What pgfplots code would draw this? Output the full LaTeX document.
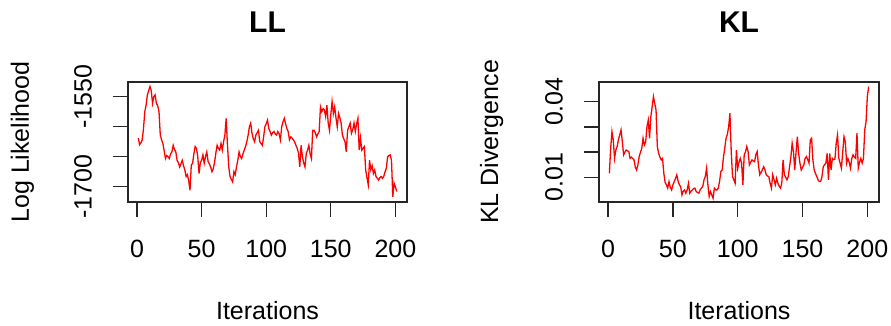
\documentclass[border=0pt]{standalone}
\usepackage{pgfplots}
\pgfplotsset{compat=1.18}
\usepackage{fontspec}
\setmainfont{Liberation Sans}
\newcommand{\lab}{\fontsize{25}{30}\selectfont}
\pgfplotsset{
  rstyle/.style={
    scale only axis,
    height=120pt,
    anchor=south west,
    axis line style={black!85, line width=1.3pt},
    tick style={black!85, line width=1.3pt},
    major tick length=15pt,
    tick align=outside,
    xtick pos=lower, ytick pos=left,
    scaled y ticks=false, scaled x ticks=false,
    xmin=-7, xmax=209,
    xtick={0,50,100,150,200},
    xticklabels={0,50,100,150,200},
    xticklabel style={font=\lab, anchor=north, inner sep=0pt},
    yticklabel style={font=\lab, rotate=90, anchor=south, inner sep=0pt},
    xticklabel shift=23pt,
    yticklabel shift=21pt,
    every axis title/.style={at={(axis description cs:0.5,1)}, anchor=center, yshift=60pt, font=\bfseries\fontsize{30}{36}\selectfont, inner sep=0pt},
    every axis x label/.style={at={(axis description cs:0.5,0)}, anchor=center, yshift=-109pt, font=\lab, inner sep=0pt},
    xlabel={Iterations},
  }
}
\begin{document}
\begin{tikzpicture}
\useasboundingbox (0,0) rectangle (891pt,326pt);
\begin{axis}[rstyle, at={(128pt,124pt)}, width=279pt,
  ymin=-1725.5, ymax=-1525.5,
  ytick={-1700,-1650,-1600,-1550},
  yticklabels={{-1700},{},{},{-1550}},
  title={LL},
  ylabel={Log Likelihood},
  every axis y label/.style={at={(axis description cs:-0.3781,0.5)}, anchor=center, rotate=90, font=\lab, inner sep=0pt},
]
\addplot[red, line width=1.3pt] coordinates {
(1,-1619)(2,-1630)(3,-1627)(4,-1622)(5,-1603)(6,-1575)(7,-1564)(8,-1547)(9,-1540)(10,-1533)
(11,-1540)(12,-1561)(13,-1550)(14,-1547)(15,-1561)(16,-1565)(17,-1575)(18,-1614)(19,-1622)(20,-1628)
(21,-1640)(22,-1653)(23,-1648)(24,-1650)(25,-1653)(26,-1645)(27,-1642)(28,-1631)(29,-1638)(30,-1642)
(31,-1656)(32,-1660)(33,-1667)(34,-1662)(35,-1656)(36,-1665)(37,-1672)(38,-1683)(39,-1680)(40,-1690)
(41,-1706)(42,-1664)(43,-1661)(44,-1645)(45,-1633)(46,-1636)(47,-1650)(48,-1678)(49,-1660)(50,-1656)
(51,-1647)(52,-1661)(53,-1650)(54,-1642)(55,-1658)(56,-1662)(57,-1667)(58,-1675)(59,-1670)(60,-1660)
(61,-1644)(62,-1631)(63,-1636)(64,-1639)(65,-1628)(66,-1639)(67,-1625)(68,-1614)(69,-1586)(70,-1630)
(71,-1667)(72,-1683)(73,-1688)(74,-1692)(75,-1675)(76,-1680)(77,-1667)(78,-1656)(79,-1642)(80,-1650)
(81,-1653)(82,-1645)(83,-1639)(84,-1633)(85,-1625)(86,-1614)(87,-1600)(88,-1594)(89,-1611)(90,-1620)
(91,-1625)(92,-1614)(93,-1610)(94,-1606)(95,-1625)(96,-1628)(97,-1631)(98,-1617)(99,-1600)(100,-1595)
(101,-1589)(102,-1603)(103,-1608)(104,-1614)(105,-1610)(106,-1608)(107,-1612)(108,-1614)(109,-1608)(110,-1612)
(111,-1622)(112,-1600)(113,-1592)(114,-1586)(115,-1595)(116,-1603)(117,-1608)(118,-1622)(119,-1617)(120,-1619)
(121,-1622)(122,-1625)(123,-1631)(124,-1636)(125,-1644)(126,-1667)(127,-1631)(128,-1650)(129,-1660)(130,-1667)
(131,-1645)(132,-1639)(133,-1631)(134,-1645)(135,-1653)(136,-1606)(137,-1606)(138,-1610)(139,-1617)(140,-1612)
(141,-1608)(142,-1567)(143,-1575)(144,-1570)(145,-1572)(146,-1583)(147,-1564)(148,-1594)(149,-1606)(150,-1580)
(151,-1558)(152,-1578)(153,-1567)(154,-1585)(155,-1600)(156,-1578)(157,-1585)(158,-1594)(159,-1614)(160,-1620)
(161,-1625)(162,-1642)(163,-1606)(164,-1600)(165,-1594)(166,-1611)(167,-1605)(168,-1594)(169,-1608)(170,-1595)
(171,-1586)(172,-1639)(173,-1619)(174,-1639)(175,-1636)(176,-1633)(177,-1672)(178,-1685)(179,-1697)(180,-1656)
(181,-1672)(182,-1665)(183,-1678)(184,-1672)(185,-1683)(186,-1686)(187,-1689)(188,-1685)(189,-1683)(190,-1686)
(191,-1683)(192,-1675)(193,-1669)(194,-1650)(195,-1648)(196,-1647)(197,-1656)(198,-1717)(199,-1694)(200,-1700)
(201,-1708)
};
\end{axis}
\begin{axis}[rstyle, at={(599pt,124pt)}, width=280pt,
  ymin=0.0002, ymax=0.0478,
  ytick={0.01,0.02,0.03,0.04},
  yticklabels={{0.01},{},{},{0.04}},
  title={KL},
  ylabel={KL Divergence},
  every axis y label/.style={at={(axis description cs:-0.3832,0.5)}, anchor=center, rotate=90, font=\lab, inner sep=0pt},
]
\addplot[red, line width=1.3pt] coordinates {
(1,0.0116)(2,0.0215)(3,0.0281)(4,0.0248)(5,0.0175)(6,0.0208)(7,0.0222)(8,0.0250)(9,0.0268)(10,0.0288)
(11,0.0241)(12,0.0189)(13,0.0200)(14,0.0208)(15,0.0205)(16,0.0202)(17,0.0175)(18,0.0180)(19,0.0175)(20,0.0169)
(21,0.0140)(22,0.0129)(23,0.0149)(24,0.0182)(25,0.0200)(26,0.0215)(27,0.0255)(28,0.0228)(29,0.0240)(30,0.0301)
(31,0.0327)(32,0.0255)(33,0.0341)(34,0.0380)(35,0.0420)(36,0.0393)(37,0.0367)(38,0.0222)(39,0.0195)(40,0.0180)
(41,0.0169)(42,0.0175)(43,0.0116)(44,0.0080)(45,0.0070)(46,0.0057)(47,0.0083)(48,0.0060)(49,0.0050)(50,0.0070)
(51,0.0083)(52,0.0095)(53,0.0110)(54,0.0085)(55,0.0070)(56,0.0063)(57,0.0030)(58,0.0045)(59,0.0050)(60,0.0037)
(61,0.0050)(62,0.0076)(63,0.0037)(64,0.0045)(65,0.0050)(66,0.0055)(67,0.0057)(68,0.0043)(69,0.0040)(70,0.0037)
(71,0.0050)(72,0.0057)(73,0.0063)(74,0.0090)(75,0.0103)(76,0.0136)(77,0.0070)(78,0.0024)(79,0.0043)(80,0.0030)
(81,0.0017)(82,0.0057)(83,0.0050)(84,0.0050)(85,0.0057)(86,0.0083)(87,0.0123)(88,0.0129)(89,0.0180)(90,0.0215)
(91,0.0255)(92,0.0270)(93,0.0300)(94,0.0354)(95,0.0202)(96,0.0103)(97,0.0090)(98,0.0076)(99,0.0208)(100,0.0136)
(101,0.0160)(102,0.0175)(103,0.0156)(104,0.0070)(105,0.0189)(106,0.0200)(107,0.0222)(108,0.0202)(109,0.0149)(110,0.0160)
(111,0.0169)(112,0.0165)(113,0.0162)(114,0.0190)(115,0.0202)(116,0.0149)(117,0.0110)(118,0.0120)(119,0.0129)(120,0.0142)
(121,0.0130)(122,0.0110)(123,0.0105)(124,0.0103)(125,0.0076)(126,0.0057)(127,0.0110)(128,0.0090)(129,0.0070)(130,0.0096)
(131,0.0076)(132,0.0065)(133,0.0057)(134,0.0076)(135,0.0169)(136,0.0110)(137,0.0100)(138,0.0090)(139,0.0103)(140,0.0142)
(141,0.0180)(142,0.0235)(143,0.0202)(144,0.0129)(145,0.0200)(146,0.0261)(147,0.0195)(148,0.0156)(149,0.0129)(150,0.0140)
(151,0.0149)(152,0.0175)(153,0.0182)(154,0.0170)(155,0.0156)(156,0.0248)(157,0.0255)(158,0.0169)(159,0.0129)(160,0.0115)
(161,0.0103)(162,0.0090)(163,0.0083)(164,0.0083)(165,0.0103)(166,0.0142)(167,0.0150)(168,0.0156)(169,0.0195)(170,0.0090)
(171,0.0195)(172,0.0129)(173,0.0175)(174,0.0170)(175,0.0172)(176,0.0235)(177,0.0268)(178,0.0175)(179,0.0156)(180,0.0136)
(181,0.0200)(182,0.0261)(183,0.0241)(184,0.0156)(185,0.0175)(186,0.0160)(187,0.0136)(188,0.0175)(189,0.0189)(190,0.0180)
(191,0.0175)(192,0.0275)(193,0.0136)(194,0.0160)(195,0.0175)(196,0.0156)(197,0.0175)(198,0.0288)(199,0.0320)(200,0.0420)
(201,0.0460)
};
\end{axis}
\end{tikzpicture}
\end{document}
